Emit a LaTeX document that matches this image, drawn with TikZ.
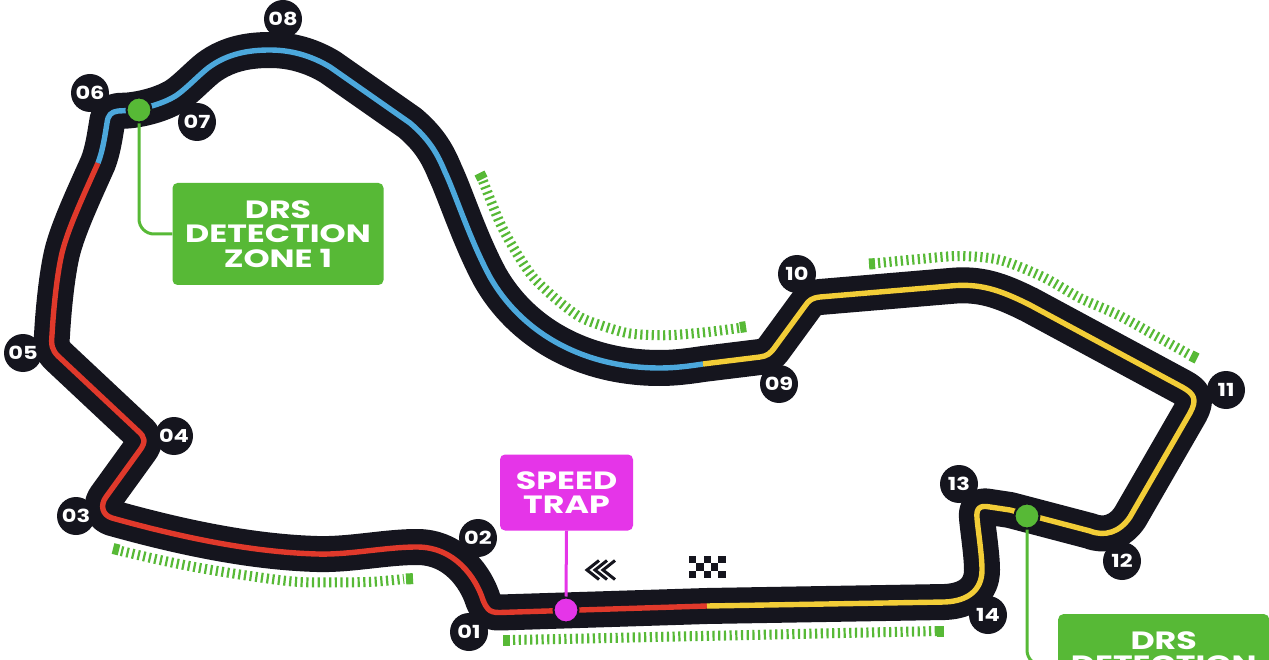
\documentclass[tikz,border=0pt]{standalone}
\usepackage{fontspec}
\newfontfamily\fone[FakeStretch=1.33]{Poppins}
\newfontfamily\ftwo[FakeStretch=1.25]{Poppins}
\definecolor{trackblack}{HTML}{15151E}
\definecolor{drsgreen}{HTML}{57B936}
\definecolor{trapmagenta}{HTML}{E535E8}
\definecolor{secred}{HTML}{E0392B}
\definecolor{secblue}{HTML}{4CA8DC}
\definecolor{secyellow}{HTML}{F2CD37}
\def\redseg{(707,606) -- (500,612.5)
 .. controls (488,613) and (486,607) .. (483,600)
 .. controls (476,578) and (455,547) .. (417,547)
 .. controls (385,547) and (350,555) .. (317,554)
 .. controls (250,552) and (180,537) .. (112,518)
 .. controls (102,515) and (100,505) .. (106,497)
 -- (140,450)
 .. controls (146,442) and (145,437) .. (138,431)
 -- (58,356)
 .. controls (52,350) and (51,345) .. (52,335)
 .. controls (54,300) and (58,270) .. (62,253)
 .. controls (68,228) and (86,190) .. (98,163)}
\def\bluerest{.. controls (103,150) and (105,135) .. (107,123)
 .. controls (108,115) and (111,112) .. (118,111)
 -- (128,110.5)
 .. controls (145,109) and (165,103) .. (177,95)
 .. controls (188,87) and (198,76) .. (208,68)
 .. controls (228,53) and (250,50) .. (270,50)
 .. controls (295,50) and (315,58) .. (330,67)
 -- (410,123)
 .. controls (430,140) and (438,155) .. (445,172)
 .. controls (455,193) and (470,240) .. (490,277)
 .. controls (520,330) and (580,368) .. (660,368)
 .. controls (675,368) and (690,366) .. (703,364)}
\def\yellowrest{-- (760,357)
 .. controls (767,356) and (770,354) .. (775,347)
 -- (805,306)
 .. controls (809,300) and (812,298) .. (820,297)
 -- (950,286)
 .. controls (980,283) and (1000,290) .. (1030,305)
 -- (1182,387)
 .. controls (1195,394) and (1197,400) .. (1190,413)
 -- (1130,517)
 .. controls (1120,532) and (1105,537) .. (1090,531)
 -- (1010,510)
 -- (990,507)
 .. controls (980,505) and (976,508) .. (977,518)
 .. controls (978,530) and (982,555) .. (982,570)
 .. controls (982,590) and (968,601) .. (945,602)
 -- (707,606)}
\tikzset{
  tracklane/.style={line width=36,color=trackblack,line join=round},
  seclane/.style={line width=5.4,line join=round},
  badge/.style={circle,fill=trackblack,text=white,minimum size=38,inner sep=0,font=\ftwo\bfseries\fontsize{18}{18}\selectfont},
  zonebox/.style={rectangle,rounded corners=5,fill=drsgreen,text=white,align=center,inner sep=0,font=\fone\bfseries\fontsize{25}{24.5}\selectfont},
  trapbox/.style={zonebox,fill=trapmagenta},
  zonelabel/.style={text=white,align=center,inner sep=0,font=\fone\bfseries\fontsize{25}{24.5}\selectfont},
  zonedot/.style={circle,fill=drsgreen,draw=trackblack,line width=2,minimum size=25,inner sep=0},
  trapdot/.style={zonedot,fill=trapmagenta},
  zoneline/.style={drsgreen,line width=3,rounded corners=15},
  trapline/.style={trapmagenta,line width=3},
  kerb/.style={drsgreen,line width=10,dash pattern=on 2.2 off 3.5},
  kerbend/.style={drsgreen,line width=11},
  chevron/.style={trackblack,line width=3},
  flagcell/.style={fill=trackblack},
}
\begin{document}
\begin{tikzpicture}[x=1pt,y=-1pt]
\useasboundingbox (0,0) rectangle (1269,660);
\clip (0,0) rectangle (1269,660);
\fill[white] (0,0) rectangle (1269,660);

% kerbs
\draw[kerb] plot[smooth] coordinates {(483,181)(500,223)(516,252)(533,277)(556,299)(580,317)(603,326)(627,333)(650,335)(673,335)(708,332)(739,328)};
\draw[kerb] plot[smooth] coordinates {(878,263)(920,259)(960,256)(1000,260)(1043,277)(1080,298)(1118,315)(1156,336)(1190,355)};
\draw[kerb] plot[smooth] coordinates {(121,551)(160,560)(200,568)(250,576)(300,582)(367,582)(404,579)};
\draw[kerb] (513,640) -- (938,631);
\coordinate (k1a) at (479.5,173); \coordinate (k1b) at (482.5,179);
\coordinate (k2a) at (740,327.5); \coordinate (k2b) at (746,326.6);
\coordinate (k3a) at (869,264); \coordinate (k3b) at (875,263.6);
\coordinate (k4a) at (1191,355.5); \coordinate (k4b) at (1197,358.5);
\coordinate (k5a) at (113,548.5); \coordinate (k5b) at (119,550);
\coordinate (k6a) at (406,579); \coordinate (k6b) at (413,578.6);
\coordinate (k7a) at (503,640); \coordinate (k7b) at (510,640);
\coordinate (k8a) at (937,631); \coordinate (k8b) at (944,631);
\foreach \a/\b in {k1a/k1b,k2a/k2b,k3a/k3b,k4a/k4b,k5a/k5b,k6a/k6b,k7a/k7b,k8a/k8b}
  \draw[kerbend] (\a) -- (\b);

% track
\draw[tracklane] \redseg \bluerest \yellowrest -- cycle;
\draw[seclane,secred] \redseg;
\draw[seclane,secblue] (98,163) \bluerest;
\draw[seclane,secyellow] (703,364) \yellowrest;

% corners
\node[badge] (c01) at (469,632) {01};
\node[badge] (c02) at (478,538) {02};
\node[badge] (c03) at (76,516) {03};
\node[badge] (c04) at (174,436) {04};
\node[badge] (c05) at (23,353) {05};
\node[badge] (c06) at (90,93) {06};
\node[badge] (c07) at (197,122) {07};
\node[badge] (c08) at (283,19) {08};
\node[badge] (c09) at (779,384) {09};
\node[badge] (c10) at (797,274) {10};
\node[badge] (c11) at (1226,390) {11};
\node[badge] (c12) at (1122,561) {12};
\node[badge] (c13) at (959,484) {13};
\node[badge] (c14) at (988,615) {14};

% callouts
\node[trapbox,minimum width=133,minimum height=76] (trap) at (566.5,492.5) {SPEED\\TRAP};
\node[trapdot] (trapd) at (566,610) {};
\draw[trapline] (trap.south) -- (trapd.north);

\node[zonebox,minimum width=211,minimum height=102] (zone1) at (278,234) {DRS\\DETECTION\\ZONE 1};
\node[zonedot] (d1) at (139,110) {};
\draw[zoneline] (d1.south) |- (zone1.west);

\node[zonebox,minimum width=211,minimum height=102,anchor=north west] (zone2) at (1058,614) {};
\node[zonelabel,anchor=north] (zone2t) at ([yshift=-17]zone2.north) {DRS\\DETECTION};
\node[zonedot] (d2) at (1027,516) {};
\draw[zoneline] (d2.south) |- (zone2.west);

% start direction chevrons
\foreach \x in {587,595,603}
  \draw[chevron] (\x+12,560.5) -- (\x,570) -- (\x+12,579.5);

% chequered flag
\foreach \cx/\cy in {0/0,2/0,4/0,1/1,3/1,0/2,2/2,4/2}
  \fill[flagcell] (689+\cx*7.3,556+\cy*7.4) rectangle +(7.3,7.4);
\end{tikzpicture}
\end{document}
